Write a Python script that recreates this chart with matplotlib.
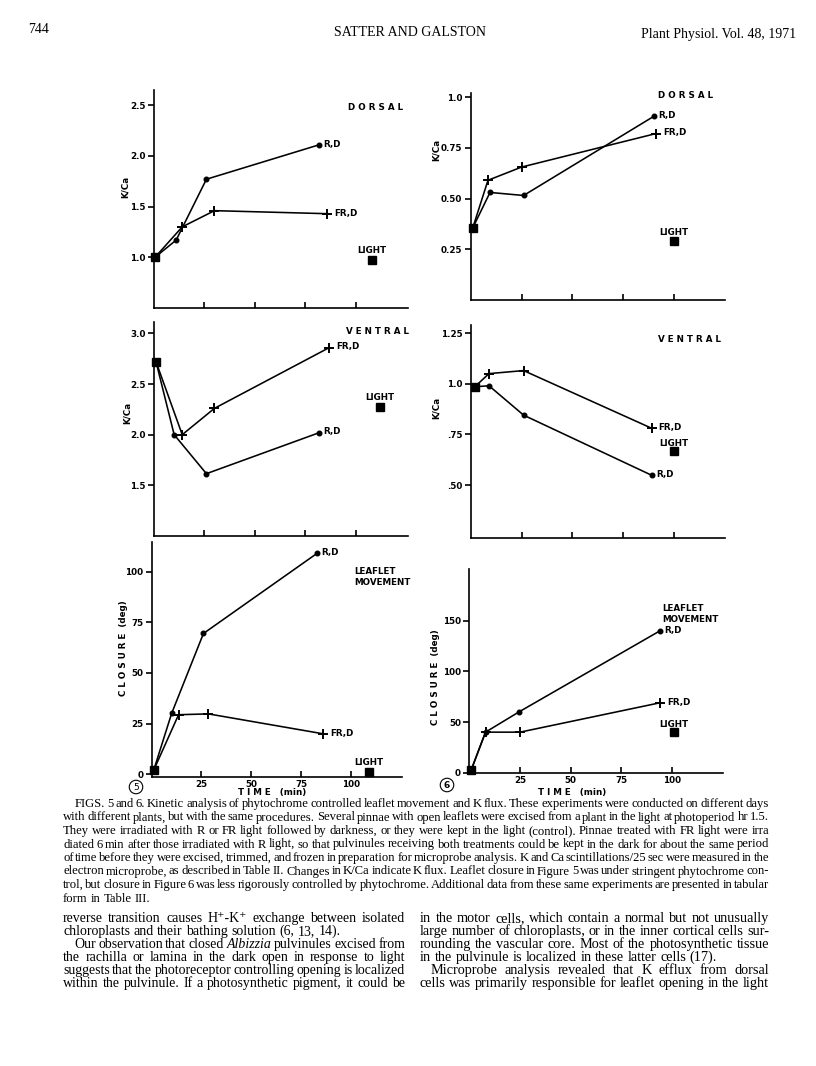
import matplotlib
matplotlib.use('Agg')
import matplotlib.pyplot as plt

W, H = 816, 1066
fig = plt.figure(figsize=(8.16, 10.66), dpi=100)
fig.patch.set_facecolor('white')

SANS = 'DejaVu Sans'
SERIF = ['Liberation Serif', 'DejaVu Serif']


def fx(x):
    return x / W


def fy(y):
    return 1 - y / H

# ---------------- data ----------------
time_ticks = [25, 50, 75, 100]
time_tick_labels = ['25', '50', '75', '100']

# Fig. 5 dorsal K/Ca
f5d_time_r = [0.5, 11, 26, 82]
f5d_kca_r = [1.0, 1.17, 1.77, 2.11]
f5d_time_fr = [0.5, 14, 30, 86]
f5d_kca_fr = [1.0, 1.30, 1.46, 1.43]
f5d_light_time = 108
f5d_light_kca = 0.97

# Fig. 6 dorsal K/Ca
f6d_time_r = [1, 9.5, 26, 90]
f6d_kca_r = [0.355, 0.53, 0.515, 0.905]
f6d_time_fr = [1, 8.5, 25, 91]
f6d_kca_fr = [0.355, 0.59, 0.655, 0.82]
f6d_light_time = 100
f6d_light_kca = 0.29

# Fig. 5 ventral K/Ca
f5v_time_r = [1, 10, 26, 82]
f5v_kca_r = [2.72, 2.0, 1.615, 2.02]
f5v_time_fr = [1, 14, 30, 87]
f5v_kca_fr = [2.72, 2.0, 2.26, 2.86]
f5v_light_time = 112
f5v_light_kca = 2.27

# Fig. 6 ventral K/Ca
f6v_time_r = [2, 9, 26, 89]
f6v_kca_r = [0.985, 0.99, 0.845, 0.548]
f6v_time_fr = [2, 9, 26, 89]
f6v_kca_fr = [0.985, 1.05, 1.065, 0.78]
f6v_light_time = 100
f6v_light_kca = 0.67

# Fig. 5 leaflet closure (deg)
f5l_time_r = [1, 10, 26, 83]
f5l_deg_r = [2, 30, 69.5, 109]
f5l_time_fr = [1, 13.5, 28.5, 86]
f5l_deg_fr = [2, 29.4, 29.8, 20]
f5l_light_time = 109
f5l_light_deg = 1

# Fig. 6 leaflet closure (deg)
f6l_time_r = [1, 8, 24.5, 94]
f6l_deg_r = [3, 40, 60, 140]
f6l_time_fr = [1, 8, 25, 94]
f6l_deg_fr = [3, 40, 40, 69]
f6l_light_time = 101
f6l_light_deg = 40

# y ticks per panel
f5d_yticks = [1.0, 1.5, 2.0, 2.5]
f5d_ylabels = ['1.0', '1.5', '2.0', '2.5']
f6d_yticks = [0.25, 0.5, 0.75, 1.0]
f6d_ylabels = ['0.25', '0.50', '0.75', '1.0']
f5v_yticks = [1.5, 2.0, 2.5, 3.0]
f5v_ylabels = ['1.5', '2.0', '2.5', '3.0']
f6v_yticks = [0.5, 0.75, 1.0, 1.25]
f6v_ylabels = ['.50', '.75', '1.0', '1.25']
f5l_yticks = [0, 25, 50, 75, 100]
f5l_ylabels = ['0', '25', '50', '75', '100']
f6l_yticks = [0, 50, 100, 150]
f6l_ylabels = ['0', '50', '100', '150']

# ---------------- panels ----------------
LW = 1.15
TFS = 6.3


def make_ax(l, t, r, b):
    return fig.add_axes([fx(l), fy(b), (r - l) / W, (b - t) / H])


def style_ax(ax, xlim, ylim, yticks, ylabels, xlabels):
    ax.set_xlim(xlim)
    ax.set_ylim(ylim)
    ax.patch.set_alpha(0)
    for s in ['top', 'right']:
        ax.spines[s].set_visible(False)
    for s in ['left', 'bottom']:
        ax.spines[s].set_linewidth(1.2)
    ax.set_xticks(time_ticks)
    ax.set_xticklabels(time_tick_labels if xlabels else [])
    ax.set_yticks(yticks)
    ax.set_yticklabels(ylabels)
    ax.tick_params(axis='x', direction='in', length=4, width=1.2, pad=2.5,
                   labelsize=TFS)
    ax.tick_params(axis='y', direction='out', length=4.5, width=1.2, pad=1.5,
                   labelsize=TFS)
    for lab in ax.get_xticklabels() + ax.get_yticklabels():
        lab.set_fontweight('bold')
        lab.set_family(SANS)


def draw_series(ax, t_r, v_r, t_fr, v_fr, lt, lv, light_off=6.8):
    ax.plot(t_r, v_r, color='k', lw=LW, clip_on=False)
    ax.plot(t_fr, v_fr, color='k', lw=LW, clip_on=False)
    ax.plot(t_r[1:], v_r[1:], 'o', color='k', ms=3.3, clip_on=False)
    ax.plot(t_fr[1:], v_fr[1:], '+', color='k', ms=7, mew=1.4, clip_on=False)
    ax.plot([t_r[0]], [v_r[0]], 's', color='k', ms=6, clip_on=False)
    ax.plot([lt], [lv], 's', color='k', ms=5.5, clip_on=False)
    kw = dict(textcoords='offset points', fontsize=TFS, fontweight='bold',
              family=SANS, va='center', ha='left')
    ax.annotate('R,D', (t_r[-1], v_r[-1]), xytext=(3, 0.5), **kw)
    ax.annotate('FR,D', (t_fr[-1], v_fr[-1]), xytext=(5, 0.5), **kw)
    ax.annotate('LIGHT', (lt, lv), xytext=(0, light_off),
                textcoords='offset points', fontsize=TFS, fontweight='bold',
                family=SANS, ha='center', va='center')


# Fig 5 dorsal
ax = make_ax(154, 90, 408, 308)
style_ax(ax, (0, 126), (0.5, 2.65), f5d_yticks, f5d_ylabels, False)
draw_series(ax, f5d_time_r, f5d_kca_r, f5d_time_fr, f5d_kca_fr,
            f5d_light_time, f5d_light_kca, 7.2)

# Fig 6 dorsal
ax = make_ax(470.7, 93, 725, 300)
style_ax(ax, (0, 125), (0.0, 1.02), f6d_yticks, f6d_ylabels, False)
draw_series(ax, f6d_time_r, f6d_kca_r, f6d_time_fr, f6d_kca_fr,
            f6d_light_time, f6d_light_kca, 6.5)

# Fig 5 ventral
ax = make_ax(154, 321.7, 408, 536)
style_ax(ax, (0, 126), (1.0, 3.115), f5v_yticks, f5v_ylabels, False)
draw_series(ax, f5v_time_r, f5v_kca_r, f5v_time_fr, f5v_kca_fr,
            f5v_light_time, f5v_light_kca, 6.8)

# Fig 6 ventral
ax = make_ax(470.7, 325, 725, 537.7)
style_ax(ax, (0, 125), (0.24, 1.29), f6v_yticks, f6v_ylabels, False)
draw_series(ax, f6v_time_r, f6v_kca_r, f6v_time_fr, f6v_kca_fr,
            f6v_light_time, f6v_light_kca, 4.8)

# Fig 5 leaflet
ax = make_ax(151.7, 541.7, 401.7, 776.7)
style_ax(ax, (0, 125.6), (-1.2, 114.8), f5l_yticks, f5l_ylabels, True)
draw_series(ax, f5l_time_r, f5l_deg_r, f5l_time_fr, f5l_deg_fr,
            f5l_light_time, f5l_light_deg, 6.8)

# Fig 6 leaflet
ax = make_ax(469.3, 569.3, 723.3, 772.7)
style_ax(ax, (0, 125.2), (0, 200.7), f6l_yticks, f6l_ylabels, True)
draw_series(ax, f6l_time_r, f6l_deg_r, f6l_time_fr, f6l_deg_fr,
            f6l_light_time, f6l_light_deg, 5.3)

# ---------------- panel labels ----------------
lab = dict(fontsize=TFS, fontweight='bold', family=SANS)
fig.text(fx(376), fy(108), 'D O R S A L', ha='center', va='center', **lab)
fig.text(fx(686), fy(95), 'D O R S A L', ha='center', va='center', **lab)
fig.text(fx(378), fy(332), 'V E N T R A L', ha='center', va='center', **lab)
fig.text(fx(689), fy(339), 'V E N T R A L', ha='center', va='center', **lab)
fig.text(fx(354), fy(577), 'LEAFLET\nMOVEMENT', ha='left', va='center',
         linespacing=1.3, **lab)
fig.text(fx(662), fy(614), 'LEAFLET\nMOVEMENT', ha='left', va='center',
         linespacing=1.3, **lab)

for (x, y) in [(125, 187), (127, 413), (436, 150), (436, 408)]:
    fig.text(fx(x), fy(y), 'K/Ca', rotation=90, ha='center', va='center', **lab)
for (x, y) in [(124, 648), (436, 677)]:
    fig.text(fx(x), fy(y), 'C L O S U R E  (deg)', rotation=90, ha='center',
             va='center', **lab)
fig.text(fx(272), fy(793), 'T I M E   (min)', ha='center', va='center', **lab)
fig.text(fx(572), fy(792), 'T I M E   (min)', ha='center', va='center', **lab)

circ = dict(boxstyle='circle,pad=0.25', fc='white', ec='black', lw=0.8)
fig.text(fx(136), fy(787), '5', ha='center', va='center', fontsize=6.5,
         family=SANS, bbox=circ)
fig.text(fx(447), fy(785), '6', ha='center', va='center', fontsize=6.5,
         family=SANS, fontweight='bold', bbox=circ)

# ---------------- page text ----------------
fig.text(fx(28), fy(33), '744', ha='left', va='baseline', fontsize=10,
         family=SERIF)
fig.text(fx(410), fy(36), 'SATTER AND GALSTON', ha='center', va='baseline',
         fontsize=10, family=SERIF)
fig.text(fx(796), fy(38), 'Plant Physiol. Vol. 48, 1971', ha='right',
         va='baseline', fontsize=10, family=SERIF)

renderer = fig.canvas.get_renderer()


def make_words(line, x0, y, fs):
    items = []
    for w in line.split():
        style = 'normal'
        if w.startswith('_') and w.endswith('_'):
            style = 'italic'
            w = w[1:-1]
        t = fig.text(fx(x0), fy(y), w, fontsize=fs, family=SERIF,
                     style=style, ha='left', va='baseline')
        items.append(t)
    widths = [t.get_window_extent(renderer).width for t in items]
    return items, widths


def fit_size(line, x0, x1, size, justify):
    fs = size
    if not justify:
        return fs
    while fs > 6:
        items, widths = make_words(line, x0, 0, fs)
        for t in items:
            t.remove()
        natural = fs * 100 / 72 * 0.25
        gap = (x1 - x0 - sum(widths)) / max(len(items) - 1, 1)
        if gap >= natural * 0.5:
            return fs
        fs -= 0.1
    return fs


def put_block(lines, x1, y0, dy, size):
    fs = min(fit_size(l, x0, x1, size, j) for (l, x0, j) in lines)
    for i, (line, x0, just) in enumerate(lines):
        y = y0 + dy * i
        items, widths = make_words(line, x0, y, fs)
        natural = fs * 100 / 72 * 0.25
        if just and len(items) > 1:
            gap = (x1 - x0 - sum(widths)) / (len(items) - 1)
        else:
            gap = natural
        x = x0
        for t, w in zip(items, widths):
            t.set_x(fx(x))
            x += w + gap


caption = [
    ("FIGS. 5 and 6. Kinetic analysis of phytochrome controlled leaflet movement and K flux. These experiments were conducted on different days", 75, True),
    ("with different plants, but with the same procedures. Several pinnae with open leaflets were excised from a plant in the light at photoperiod hr 1.5.", 63, True),
    ("They were irradiated with R or FR light followed by darkness, or they were kept in the light (control). Pinnae treated with FR light were irra", 63, True),
    ("diated 6 min after those irradiated with R light, so that pulvinules receiving both treatments could be kept in the dark for about the same period", 63, True),
    ("of time before they were excised, trimmed, and frozen in preparation for microprobe analysis. K and Ca scintillations/25 sec were measured in the", 63, True),
    ("electron microprobe, as described in Table II. Changes in K/Ca indicate K flux. Leaflet closure in Figure 5 was under stringent phytochrome con-", 63, True),
    ("trol, but closure in Figure 6 was less rigorously controlled by phytochrome. Additional data from these same experiments are presented in tabular", 63, True),
    ("form in Table III.", 63, False),
]
put_block(caption, 769, 807, 13.5, 9.3)

left_col = [
    ("reverse transition causes H⁺-K⁺ exchange between isolated", 63, True),
    ("chloroplasts and their bathing solution (6, 13, 14).", 63, False),
    ("Our observation that closed _Albizzia_ pulvinules excised from", 74, True),
    ("the rachilla or lamina in the dark open in response to light", 63, True),
    ("suggests that the photoreceptor controlling opening is localized", 63, True),
    ("within the pulvinule. If a photosynthetic pigment, it could be", 63, True),
]
right_col = [
    ("in the motor cells, which contain a normal but not unusually", 420, True),
    ("large number of chloroplasts, or in the inner cortical cells sur-", 420, True),
    ("rounding the vascular core. Most of the photosynthetic tissue", 420, True),
    ("in the pulvinule is localized in these latter cells (17).", 420, False),
    ("Microprobe analysis revealed that K efflux from dorsal", 431, True),
    ("cells was primarily responsible for leaflet opening in the light", 420, True),
]
put_block(left_col, 405, 922, 13, 10.3)
put_block(right_col, 769, 922, 13, 10.3)

fig.savefig('out.png', dpi=100, facecolor='white')
